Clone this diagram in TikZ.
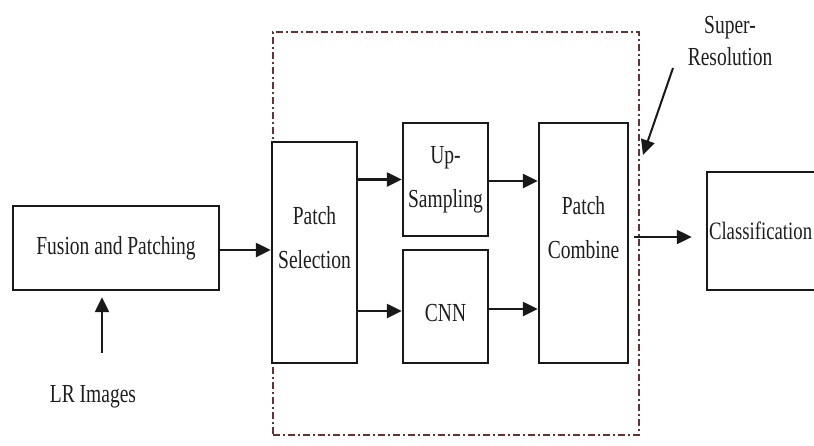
\documentclass[tikz,border=0pt]{standalone}
\usepackage{fontspec}
\newfontfamily\condserif[FakeStretch=0.75]{Liberation Serif}
\usetikzlibrary{arrows.meta}
\definecolor{ink}{RGB}{25,25,25}
\definecolor{txt}{RGB}{30,30,30}
\definecolor{framecol}{RGB}{105,50,50}
\begin{document}
\begin{tikzpicture}[x=1pt,y=-1pt,
  box/.style={draw=ink, line width=2.4pt, inner sep=0pt, fill=white},
  lbl/.style={text=txt, font=\condserif\fontsize{26}{44}\selectfont, align=center, inner sep=0pt},
  arr/.style={draw=ink, line width=2.4pt, -{Triangle[length=15pt,width=14pt]}},
  frm/.style={draw=framecol, line width=1.8pt, dash pattern=on 7pt off 3pt on 2pt off 3pt, inner sep=0pt}]
\useasboundingbox (0,0) rectangle (814,445);

% super-resolution frame
\node[frm, minimum width=366, minimum height=403] (srframe) at (456,233.5) {};

% boxes
\node[box, lbl, minimum width=206, minimum height=84] (fusion) at (116,248) {Fusion and Patching};
\node[box, minimum width=85, minimum height=221,
      label={[lbl, yshift=15pt]center:{Patch\\Selection}}] (sel) at (314.5,252.5) {};
\node[box, lbl, minimum width=85, minimum height=113] (up) at (445.5,179.5) {Up-\\Sampling};
\node[box, minimum width=85, minimum height=113,
      label={[lbl, yshift=-6.5pt]center:CNN}] (cnn) at (445.5,306.5) {};
\node[box, minimum width=89, minimum height=240,
      label={[lbl, yshift=15.5pt]center:{Patch\\Combine}}] (comb) at (583.5,243) {};
\node[box, lbl, font=\condserif\fontsize{25}{44}\selectfont, minimum width=123, minimum height=118, text width=119, align=left] (cls) at (768.5,231) {Classification};

% texts
\node[lbl] (lr) at (93,397) {LR Images};
\node[lbl, font=\condserif\fontsize{26}{32}\selectfont] (srlabel) at (730,41) {Super-\\Resolution};

% connectors
\coordinate (lrtail) at (102,353);
\draw[arr, shorten >=6pt] (lrtail) -- (lrtail |- fusion.south);
\draw[arr] ([yshift=-2pt]fusion.east) -- ([yshift=-2pt]fusion.east -| sel.west);
\draw[arr] (sel.east |- up.west) -- (up.west);
\draw[arr] ([yshift=-4.5pt]sel.east |- cnn.west) -- ([yshift=-4.5pt]cnn.west);
\draw[arr] ([yshift=-1.5pt]up.east) -- ([yshift=-1.5pt]up.east -| comb.west);
\draw[arr] ([yshift=-2.5pt]cnn.east) -- ([yshift=-2.5pt]cnn.east -| comb.west);
\draw[arr, line width=2.2pt, shorten <=5pt, shorten >=14pt] ([yshift=6pt]comb.east) -- ([yshift=6pt]comb.east -| cls.west);
\coordinate (srtail) at (673,68);
\coordinate (srtip) at (643,155);
\draw[arr, line width=2pt] (srtail) -- (srtip);
\end{tikzpicture}
\end{document}
